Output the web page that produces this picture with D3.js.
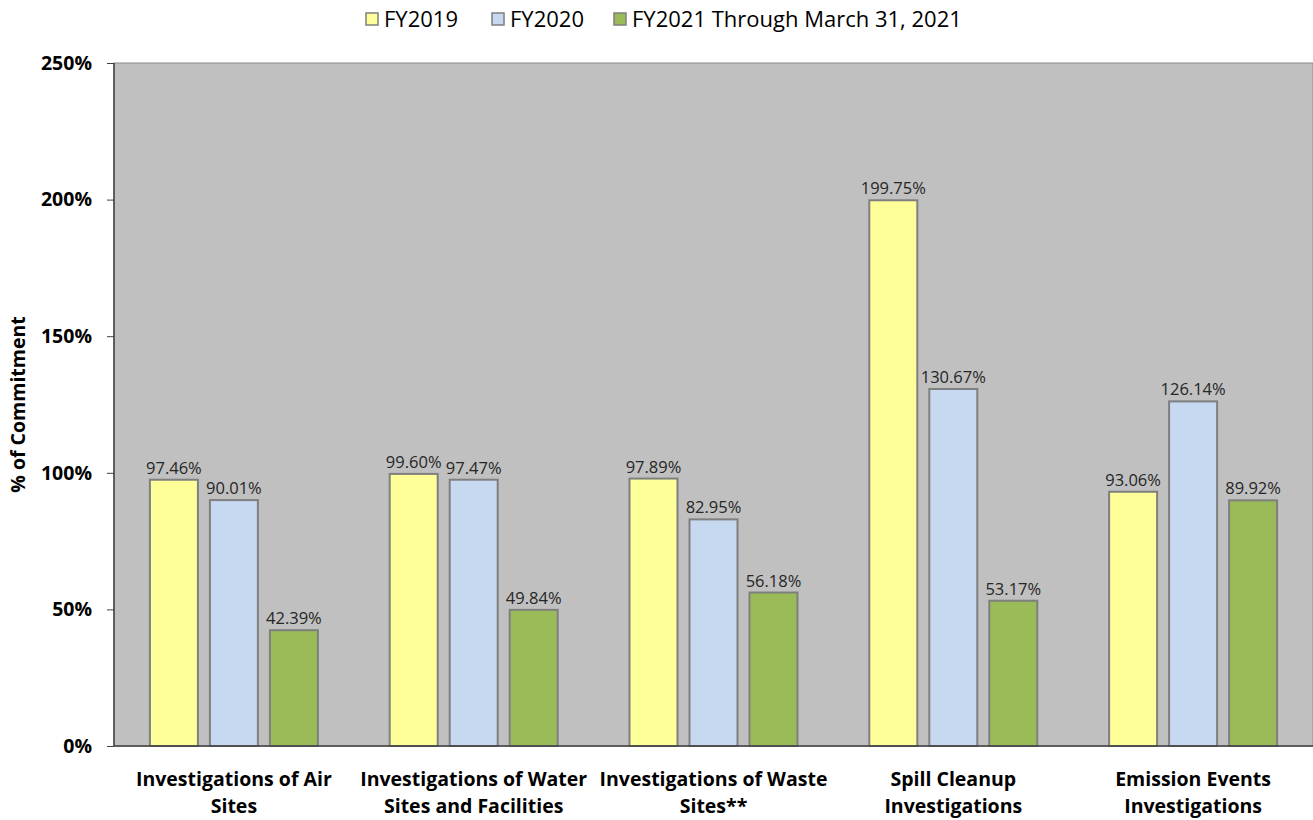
<!DOCTYPE html>
<html>
<head>
<meta charset="utf-8">
<script src="https://cdn.jsdelivr.net/npm/d3@7"></script>
<style>
  body { margin: 0; background: white; }
  text { font-family: "Open Sans", "Noto Sans", sans-serif; }
</style>
</head>
<body>
<svg width="1313" height="820"></svg>
<script>
// data
var categories = [
    ["Investigations of Air", "Sites"],
    ["Investigations of Water", "Sites and Facilities"],
    ["Investigations of Waste", "Sites**"],
    ["Spill Cleanup", "Investigations"],
    ["Emission Events", "Investigations"]
];
var seriesNames = ["FY2019", "FY2020", "FY2021 Through March 31, 2021"];
var fy2019 = [97.46, 99.60, 97.89, 199.75, 93.06];
var fy2020 = [90.01, 97.47, 82.95, 130.67, 126.14];
var fy2021 = [42.39, 49.84, 56.18, 53.17, 89.92];
var yTicks = [0, 50, 100, 150, 200, 250];

var colors = ["#FFFF99", "#C6D9F1", "#9BBB59"];
var series = [fy2019, fy2020, fy2021];

var svg = d3.select("svg"),
    width = +svg.attr("width"),
    height = +svg.attr("height");

var margin = {top: 63, right: 0, bottom: 74, left: 114};
var pw = width - margin.left - margin.right,
    ph = height - margin.top - margin.bottom;

var g = svg.append("g").attr("transform", "translate(" + margin.left + "," + margin.top + ")");

var x0 = d3.scaleBand().domain(d3.range(categories.length)).range([0, pw]);
var x1 = d3.scaleBand().domain(d3.range(series.length)).range([x0.bandwidth() / 2 - 90, x0.bandwidth() / 2 + 90]).paddingInner(0.2).paddingOuter(0.1);
var y = d3.scaleLinear().domain([0, 250]).range([ph, 0]);

// plot background
g.append("rect")
    .attr("width", pw).attr("height", ph)
    .style("fill", "#C0C0C0")
    .style("stroke", "#8a8a8a")
    .style("stroke-width", 1);

// bars
var groups = g.selectAll(".grp")
    .data(categories).enter()
    .append("g")
    .attr("transform", function(d, i) { return "translate(" + x0(i) + ",0)"; });

series.forEach(function(s, si) {
    groups.append("rect")
        .attr("x", x1(si))
        .attr("width", x1.bandwidth())
        .attr("y", function(d, i) { return y(s[i]); })
        .attr("height", function(d, i) { return ph - y(s[i]); })
        .style("fill", colors[si])
        .style("stroke", "#7f7f7f")
        .style("stroke-width", 2);

    groups.append("text")
        .attr("x", x1(si) + x1.bandwidth() / 2)
        .attr("y", function(d, i) { return y(s[i]) - 6; })
        .attr("text-anchor", "middle")
        .attr("font-size", 16.5)
        .style("fill", "#262626")
        .text(function(d, i) { return s[i].toFixed(2) + "%"; });
});

// axes
var yAxis = g.append("g")
    .call(d3.axisLeft(y).tickValues(yTicks).tickSize(7).tickFormat(function(d) { return d + "%"; }));
yAxis.select(".domain").style("stroke", "#404040").style("stroke-width", 1.5).attr("d", "M0,0V" + ph);
yAxis.selectAll(".tick line").style("stroke", "#404040");
yAxis.selectAll(".tick text")
    .attr("x", -22)
    .attr("font-size", 19.5)
    .attr("font-weight", "bold")
    .style("fill", "#000");

g.append("line")
    .attr("x1", 0).attr("x2", pw)
    .attr("y1", ph).attr("y2", ph)
    .style("stroke", "#404040").style("stroke-width", 1.5);

// category labels
var lab = g.selectAll(".cat")
    .data(categories).enter()
    .append("text")
    .attr("text-anchor", "middle")
    .attr("font-size", 19.5)
    .attr("font-weight", "bold")
    .style("fill", "#000");
lab.each(function(d, i) {
    var t = d3.select(this);
    d.forEach(function(line, li) {
        t.append("tspan")
            .attr("x", x0(i) + x0.bandwidth() / 2)
            .attr("y", ph + 40 + li * 27)
            .text(line);
    });
});

// y title
svg.append("text")
    .attr("transform", "translate(25," + (margin.top + ph / 2) + ") rotate(-90)")
    .attr("text-anchor", "middle")
    .attr("font-size", 19.5)
    .attr("font-weight", "bold")
    .text("% of Commitment");

// legend
var legendX = [366, 492, 614];
var legend = svg.selectAll(".leg")
    .data(seriesNames).enter()
    .append("g")
    .attr("transform", function(d, i) { return "translate(" + legendX[i] + ",13)"; });
legend.append("rect")
    .attr("width", 12).attr("height", 12)
    .style("fill", function(d, i) { return colors[i]; })
    .style("stroke", "#7f7f7f")
    .style("stroke-width", 1.5);
legend.append("text")
    .attr("x", 18).attr("y", 14)
    .attr("font-size", 22)
    .text(function(d) { return d; });
</script>
</body>
</html>
